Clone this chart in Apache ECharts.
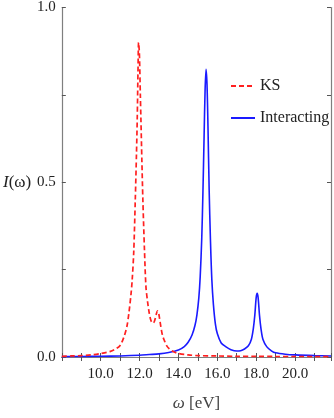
<!DOCTYPE html>
<html>
<head>
<meta charset="utf-8">
<script src="https://cdn.jsdelivr.net/npm/echarts@6/dist/echarts.min.js"></script>
<style>
  html, body { margin: 0; padding: 0; background: #fff; }
  #main { width: 334px; height: 418px; }
</style>
</head>
<body>
<div id="main"></div>
<script>
  // KS spectrum (red dashed)
  var omegaKS = [8.0, 8.5, 9.0, 9.5, 10.0, 10.5, 10.8, 11.0, 11.2, 11.35, 11.45, 11.56, 11.62, 11.7, 11.78, 11.84,
    11.88, 11.92, 11.95, 11.99, 12.04, 12.07, 12.12, 12.17, 12.25, 12.33, 12.42, 12.5, 12.58, 12.65, 12.7, 12.77,
    12.85, 12.92, 12.97, 13.03, 13.1, 13.18, 13.27, 13.4, 13.52, 13.65, 13.84, 14.0, 14.5, 15.0, 16.0, 17.0, 18.0,
    19.0, 20.0, 21.85]
  var ksValues = [0.002, 0.003, 0.004, 0.006, 0.01, 0.016, 0.024, 0.033, 0.058, 0.088, 0.125, 0.18, 0.22, 0.3, 0.45, 0.58,
    0.68, 0.82, 0.9, 0.87, 0.75, 0.68, 0.56, 0.45, 0.31, 0.2, 0.155, 0.125, 0.105, 0.098, 0.097, 0.103,
    0.12, 0.132, 0.128, 0.11, 0.085, 0.062, 0.048, 0.032, 0.024, 0.018, 0.013, 0.01, 0.006, 0.004, 0.003, 0.002, 0.002,
    0.0015, 0.0015, 0.001]

  // interacting spectrum (blue solid)
  var omegaInt = [8.0, 9.0, 10.0, 11.0, 12.0, 12.5, 13.0, 13.5, 14.0, 14.3, 14.5, 14.7, 14.85, 14.95, 15.05, 15.12,
    15.2, 15.26, 15.32, 15.37, 15.42, 15.47, 15.52, 15.58, 15.65, 15.72, 15.8, 15.9, 16.0, 16.2, 16.45, 16.7,
    17.0, 17.2, 17.4, 17.6, 17.75, 17.85, 17.93, 18.0, 18.05, 18.1, 18.17, 18.25, 18.35, 18.55, 18.8, 19.0,
    19.5, 20.0, 21.0, 21.85]
  var intValues = [0.001, 0.0015, 0.002, 0.003, 0.005, 0.007, 0.009, 0.013, 0.02, 0.03, 0.042, 0.063, 0.09, 0.12, 0.17, 0.23,
    0.34, 0.47, 0.63, 0.76, 0.823, 0.78, 0.66, 0.48, 0.33, 0.22, 0.15, 0.095, 0.067, 0.04, 0.029, 0.021,
    0.017, 0.018, 0.023, 0.032, 0.05, 0.08, 0.12, 0.17, 0.182, 0.17, 0.12, 0.08, 0.05, 0.029, 0.017, 0.012,
    0.008, 0.006, 0.004, 0.003]

  var yTicks = ['0.0', '0.5', '1.0']

  function zip(xs, ys) {
    return xs.map(function (x, i) { return [x, ys[i]] })
  }

  var serif = 'Liberation Serif'
  var axisColor = '#7f7f7f'

  var chart = echarts.init(document.getElementById('main'))
  var xCommon = {
    type: 'value',
    min: 8,
    max: 21.85,
    interval: 1,
    axisLine: { lineStyle: { color: axisColor, width: 1.2 } },
    axisTick: { inside: true, length: 4, lineStyle: { color: '#555' } },
    splitLine: { show: false }
  }
  var yCommon = {
    type: 'value',
    min: 0,
    max: 1,
    interval: 0.25,
    axisLine: { lineStyle: { color: axisColor, width: 1.2 } },
    axisTick: { inside: true, length: 4, lineStyle: { color: '#555' } },
    splitLine: { show: false }
  }

  chart.setOption({
    animation: false,
    grid: { left: 58, right: 1, top: 7, bottom: 61 },
    legend: {
      orient: 'vertical',
      left: 225,
      top: 73,
      itemWidth: 24,
      itemHeight: 14,
      itemGap: 16,
      itemStyle: { color: 'transparent', borderColor: 'transparent', borderWidth: 0 },
      textStyle: { fontFamily: serif, fontSize: 16, color: '#222' },
      data: ['KS', 'Interacting']
    },
    xAxis: [
      Object.assign({}, xCommon, {
        position: 'bottom',
        name: '{w|ω} [eV]',
        nameLocation: 'middle',
        nameGap: 38,
        nameTextStyle: {
          fontFamily: serif, fontSize: 17, color: '#444',
          rich: { w: { fontFamily: serif, fontStyle: 'italic', fontSize: 17, color: '#444' } }
        },
        axisLabel: {
          margin: 10,
          fontFamily: serif,
          fontSize: 15,
          color: '#222',
          formatter: function (v) {
            if (v >= 10 && v <= 20 && v % 2 === 0) return v.toFixed(1)
            return ''
          }
        }
      }),
      Object.assign({}, xCommon, { position: 'top', axisLabel: { show: false } })
    ],
    yAxis: [
      Object.assign({}, yCommon, {
        position: 'left',
        name: '{i|I}(ω)',
        nameLocation: 'middle',
        nameRotate: 0,
        nameGap: 28,
        nameTextStyle: {
          fontFamily: serif, fontSize: 17, color: '#222',
          rich: { i: { fontFamily: serif, fontStyle: 'italic', fontSize: 17, color: '#222' } }
        },
        axisLabel: {
          margin: 6,
          fontFamily: serif,
          fontSize: 15,
          color: '#222',
          formatter: function (v) {
            var k = Math.round(v * 2)
            if (Math.abs(v * 2 - k) < 1e-6) return yTicks[k]
            return ''
          }
        }
      }),
      Object.assign({}, yCommon, { position: 'right', axisLabel: { show: false } })
    ],
    series: [
      {
        name: 'KS',
        type: 'line',
        xAxisIndex: 0,
        yAxisIndex: 0,
        smooth: 0.3,
        symbol: 'none',
        data: zip(omegaKS, ksValues),
        lineStyle: { color: '#ff2020', width: 1.7, type: [5, 3] },
        itemStyle: { color: '#ff2020' },
        z: 3
      },
      {
        name: 'Interacting',
        type: 'line',
        xAxisIndex: 0,
        yAxisIndex: 0,
        smooth: 0.3,
        symbol: 'none',
        data: zip(omegaInt, intValues),
        lineStyle: { color: '#1a1aff', width: 1.6 },
        itemStyle: { color: '#1a1aff' },
        z: 2
      }
    ]
  })
</script>
</body>
</html>
